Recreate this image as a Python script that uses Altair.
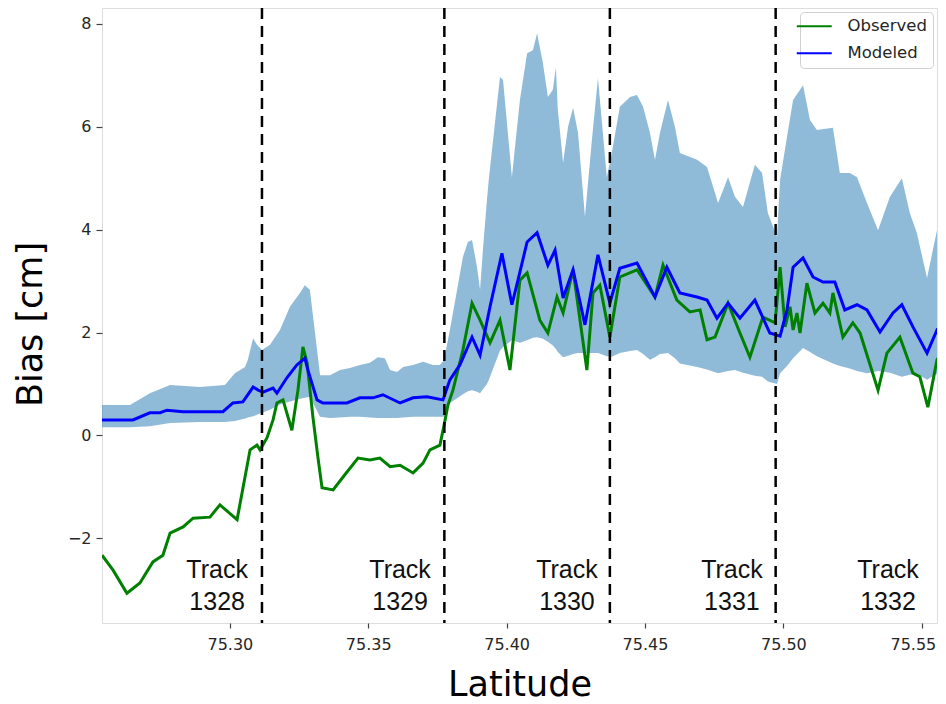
import altair as alt
import pandas as pd

# ---- data ----
band_lat = [75.2538, 75.2639, 75.2711, 75.2784, 75.2892, 75.2982, 75.3018, 75.3055, 75.3065, 75.3084,
            75.3098, 75.3116, 75.3145, 75.3181, 75.3217, 75.3253, 75.3271, 75.3289, 75.3326, 75.3362,
            75.3398, 75.3434, 75.3470, 75.3506, 75.3535, 75.3560, 75.3579, 75.3604, 75.3626, 75.3662,
            75.3698, 75.3734, 75.3759, 75.3774, 75.3795, 75.3821, 75.3842, 75.3860, 75.3875, 75.3893,
            75.3904, 75.3915, 75.3929, 75.3936, 75.3976, 75.3987, 75.4019, 75.4048, 75.4074, 75.4095,
            75.4110, 75.4131, 75.4149, 75.4167, 75.4178, 75.4185, 75.4204, 75.4222, 75.4240, 75.4258,
            75.4283, 75.4308, 75.4330, 75.4362, 75.4380, 75.4409, 75.4446, 75.4471, 75.4493, 75.4518,
            75.4536, 75.4554, 75.4583, 75.4608, 75.4626, 75.4688, 75.4724, 75.4764, 75.4800, 75.4825,
            75.4854, 75.4897, 75.4923, 75.4944, 75.4977, 75.4988, 75.5013, 75.5035, 75.5071, 75.5096,
            75.5121, 75.5179, 75.5204, 75.5240, 75.5266, 75.5302, 75.5342, 75.5385, 75.5428, 75.5457,
            75.5482, 75.5519, 75.5555, 75.5583]
band_upper = [0.59, 0.59, 0.82, 0.98, 0.94, 0.98, 1.21, 1.33, 1.47, 1.89,
              1.76, 1.66, 1.76, 2.05, 2.50, 2.77, 2.92, 2.83, 1.17, 1.17,
              1.27, 1.31, 1.37, 1.41, 1.52, 1.50, 1.27, 1.23, 1.33, 1.37,
              1.43, 1.37, 1.37, 1.47, 2.05, 2.83, 3.47, 3.76, 3.80, 3.27,
              2.83, 3.66, 4.58, 5.00, 6.97, 6.91, 5.02, 6.52, 7.43, 7.49,
              7.82, 7.24, 6.58, 6.72, 7.16, 6.33, 5.30, 6.00, 6.37, 5.88,
              4.25, 5.74, 6.95, 5.02, 5.49, 6.39, 6.58, 6.62, 6.39, 5.88,
              5.36, 5.88, 6.52, 6.00, 5.49, 5.36, 5.22, 4.52, 5.02, 4.64,
              4.44, 5.26, 5.10, 4.32, 3.86, 4.97, 5.80, 6.52, 6.81, 6.13,
              5.94, 5.98, 5.10, 5.10, 5.02, 4.52, 3.99, 4.64, 5.00, 4.32,
              3.94, 3.06, 3.99, 4.05]
band_lower = [0.16, 0.16, 0.18, 0.24, 0.26, 0.26, 0.28, 0.33, 0.35, 0.37,
              0.40, 0.44, 0.50, 0.60, 0.66, 0.71, 0.73, 0.75, 0.36, 0.34,
              0.35, 0.36, 0.36, 0.35, 0.34, 0.34, 0.34, 0.34, 0.35, 0.36,
              0.36, 0.36, 0.36, 0.36, 0.63, 0.72, 0.80, 0.86, 0.88, 0.85,
              0.82, 0.90, 1.00, 1.08, 1.65, 1.72, 1.85, 1.80, 1.85, 1.90,
              1.91, 1.88, 1.82, 1.75, 1.68, 1.62, 1.52, 1.55, 1.58, 1.60,
              1.60, 1.60, 1.60, 1.54, 1.53, 1.60, 1.64, 1.66, 1.58, 1.47,
              1.52, 1.58, 1.60, 1.50, 1.40, 1.33, 1.28, 1.21, 1.25, 1.27,
              1.22, 1.16, 1.14, 1.05, 1.00, 1.21, 1.35, 1.50, 1.70, 1.62,
              1.54, 1.40, 1.35, 1.30, 1.25, 1.21, 1.25, 1.22, 1.14, 1.18,
              1.20, 1.08, 1.20, 1.33]

mod_lat = [75.2538, 75.2650, 75.2711, 75.2748, 75.2773, 75.2831, 75.2892, 75.2975, 75.3011, 75.3047,
           75.3084, 75.3102, 75.3120, 75.3156, 75.3170, 75.3206, 75.3242, 75.3271, 75.3282, 75.3315,
           75.3336, 75.3423, 75.3470, 75.3517, 75.3553, 75.3615, 75.3662, 75.3712, 75.3770, 75.3795,
           75.3831, 75.3875, 75.3904, 75.3940, 75.3983, 75.4019, 75.4041, 75.4074, 75.4110, 75.4149,
           75.4175, 75.4204, 75.4240, 75.4283, 75.4330, 75.4373, 75.4409, 75.4471, 75.4536, 75.4579,
           75.4626, 75.4688, 75.4724, 75.4760, 75.4800, 75.4843, 75.4897, 75.4951, 75.4988, 75.5013,
           75.5035, 75.5071, 75.5107, 75.5143, 75.5186, 75.5222, 75.5266, 75.5302, 75.5349, 75.5396,
           75.5428, 75.5468, 75.5519, 75.5555, 75.5583]
mod_bias = [0.30, 0.30, 0.44, 0.44, 0.49, 0.46, 0.46, 0.46, 0.63, 0.65,
            0.94, 0.88, 0.84, 0.92, 0.82, 1.12, 1.37, 1.50, 1.27, 0.69,
            0.63, 0.63, 0.73, 0.73, 0.79, 0.63, 0.73, 0.75, 0.69, 1.08,
            1.37, 1.91, 1.56, 2.50, 3.54, 2.54, 3.02, 3.76, 3.94, 3.31,
            3.60, 2.67, 3.22, 2.15, 3.51, 2.57, 3.25, 3.35, 2.69, 3.27,
            2.77, 2.69, 2.63, 2.28, 2.57, 2.28, 2.63, 1.99, 1.93, 2.44,
            3.27, 3.45, 3.08, 2.98, 2.98, 2.44, 2.54, 2.44, 2.01, 2.38,
            2.54, 2.11, 1.60, 2.05, 1.99]

obs_lat = [75.2538, 75.2578, 75.2628, 75.2675, 75.2722, 75.2758, 75.2784, 75.2831, 75.2867, 75.2928,
           75.2964, 75.3026, 75.3073, 75.3098, 75.3109, 75.3134, 75.3156, 75.3170, 75.3192, 75.3224,
           75.3246, 75.3264, 75.3279, 75.3300, 75.3318, 75.3333, 75.3373, 75.3409, 75.3463, 75.3506,
           75.3542, 75.3579, 75.3615, 75.3662, 75.3698, 75.3723, 75.3759, 75.3774, 75.3788, 75.3806,
           75.3842, 75.3875, 75.3904, 75.3940, 75.3976, 75.4012, 75.4048, 75.4074, 75.4120, 75.4149,
           75.4182, 75.4204, 75.4240, 75.4290, 75.4312, 75.4337, 75.4373, 75.4409, 75.4471, 75.4536,
           75.4565, 75.4615, 75.4662, 75.4699, 75.4724, 75.4753, 75.4800, 75.4843, 75.4879, 75.4926,
           75.4970, 75.4988, 75.5006, 75.5024, 75.5035, 75.5049, 75.5060, 75.5085, 75.5114, 75.5143,
           75.5168, 75.5179, 75.5215, 75.5251, 75.5277, 75.5342, 75.5374, 75.5421, 75.5468, 75.5493,
           75.5522, 75.5555, 75.5583]
obs_bias = [-2.33, -2.62, -3.07, -2.87, -2.46, -2.33, -1.90, -1.78, -1.61, -1.59,
            -1.35, -1.64, -0.28, -0.19, -0.28, -0.05, 0.30, 0.63, 0.69, 0.10,
            0.88, 1.72, 1.41, 0.36, -0.42, -1.02, -1.06, -0.81, -0.44, -0.48,
            -0.44, -0.61, -0.58, -0.73, -0.54, -0.28, -0.19, 0.20, 0.59, 0.88,
            1.66, 2.57, 2.24, 1.80, 2.24, 1.27, 3.02, 3.16, 2.24, 1.99,
            2.69, 2.38, 3.22, 1.27, 2.77, 2.92, 1.91, 3.08, 3.22, 2.69,
            3.31, 2.63, 2.40, 2.44, 1.86, 1.91, 2.57, 1.99, 1.52, 2.30,
            2.19, 3.27, 2.11, 2.50, 2.05, 2.38, 1.99, 2.96, 2.38, 2.57,
            2.38, 2.77, 1.91, 2.19, 1.99, 0.88, 1.60, 1.91, 1.21, 1.14,
            0.55, 1.47, 1.72]

divider_lat = [75.3116, 75.3775, 75.4373, 75.4972]
track_lat = [75.2954, 75.3615, 75.4218, 75.4814, 75.5378]
track_names = ["Track\n1328", "Track\n1329", "Track\n1330", "Track\n1331", "Track\n1332"]
track_bias = [-2.77, -2.77, -2.77, -2.77, -2.77]

x_ticks = [75.30, 75.35, 75.40, 75.45, 75.50, 75.55]
y_ticks = [-2, 0, 2, 4, 6, 8]
x_domain = [75.2538, 75.5555]
y_domain = [-3.648, 8.31]
series_names = ["Observed", "Modeled"]
series_colors = ["#008000", "#0000ff"]

# ---- tables ----
band_df = pd.DataFrame({"lat": band_lat, "upper": band_upper, "lower": band_lower})
obs_df = pd.DataFrame({"lat": obs_lat, "bias": obs_bias, "series": "Observed"})
mod_df = pd.DataFrame({"lat": mod_lat, "bias": mod_bias, "series": "Modeled"})
div_df = pd.DataFrame({"lat": divider_lat})
track_df = pd.DataFrame({"lat": track_lat, "bias": track_bias, "label": track_names})

FONT = "DejaVu Sans"

x_enc = alt.X(
    "lat:Q",
    scale=alt.Scale(domain=x_domain, nice=False, zero=False),
    axis=alt.Axis(
        values=x_ticks, format=".2f", title="Latitude", grid=False, domain=False,
        tickSize=5, tickColor="#444", tickWidth=1.2,
        labelFont=FONT, labelFontSize=16, labelColor="#262626", labelPadding=8,
        labelFlush=20, labelFlushOffset=14,
        titleFont=FONT, titleFontSize=35, titleFontWeight="normal", titleColor="#000",
        titleY=72, titleBaseline="alphabetic",
    ),
)
y_scale = alt.Scale(domain=y_domain, nice=False, zero=False)
y_axis = alt.Axis(
    values=y_ticks, format="d", title="Bias [cm]", grid=False, domain=False,
    tickSize=6, tickColor="#444", tickWidth=1.2,
    labelFont=FONT, labelFontSize=16, labelColor="#262626", labelPadding=5,
    titleFont=FONT, titleFontSize=35, titleFontWeight="normal", titleColor="#000",
    titleX=-61, titleY=316, titleBaseline="alphabetic",
)

color_scale = alt.Scale(domain=series_names, range=series_colors)
legend = alt.Legend(
    title=None, orient="none", legendX=698, legendY=4,
    symbolType="M-2.5,0H2.5", symbolSize=196, symbolStrokeWidth=2,
    labelFont=FONT, labelFontSize=16.5, labelColor="#262626", labelOffset=25,
    padding=6, rowPadding=10, strokeColor="#d0d0d0", fillColor="white",
    cornerRadius=4,
)

area = alt.Chart(band_df).mark_area(color="#1f77b4", opacity=0.5, clip=True).encode(
    x=x_enc,
    y=alt.Y("upper:Q", scale=y_scale, axis=y_axis),
    y2="lower:Q",
)
obs = alt.Chart(obs_df).mark_line(strokeWidth=3, clip=True).encode(
    x="lat:Q", y="bias:Q",
    color=alt.Color("series:N", scale=color_scale, legend=legend),
)
mod = alt.Chart(mod_df).mark_line(strokeWidth=3, clip=True).encode(
    x="lat:Q", y="bias:Q",
    color=alt.Color("series:N", scale=color_scale, legend=legend),
)
rules = alt.Chart(div_df).mark_rule(color="black", strokeWidth=2.5, strokeDash=[11, 7]).encode(
    x="lat:Q"
)
texts = alt.Chart(track_df).mark_text(
    font="Liberation Sans", fontSize=25, lineBreak="\n", lineHeight=32,
    align="center", baseline="alphabetic", color="#111",
).encode(x="lat:Q", y="bias:Q", text="label:N")

chart = alt.layer(area, obs, mod, rules, texts).properties(
    width=835, height=615,
    autosize=alt.AutoSizeParams(type="none"),
    padding={"left": 94, "top": 0, "right": 1, "bottom": 80},
).configure_view(stroke="#444", strokeWidth=1.2).configure(background="white")

chart.save("out.html", embed_options={"renderer": "svg", "actions": False})
